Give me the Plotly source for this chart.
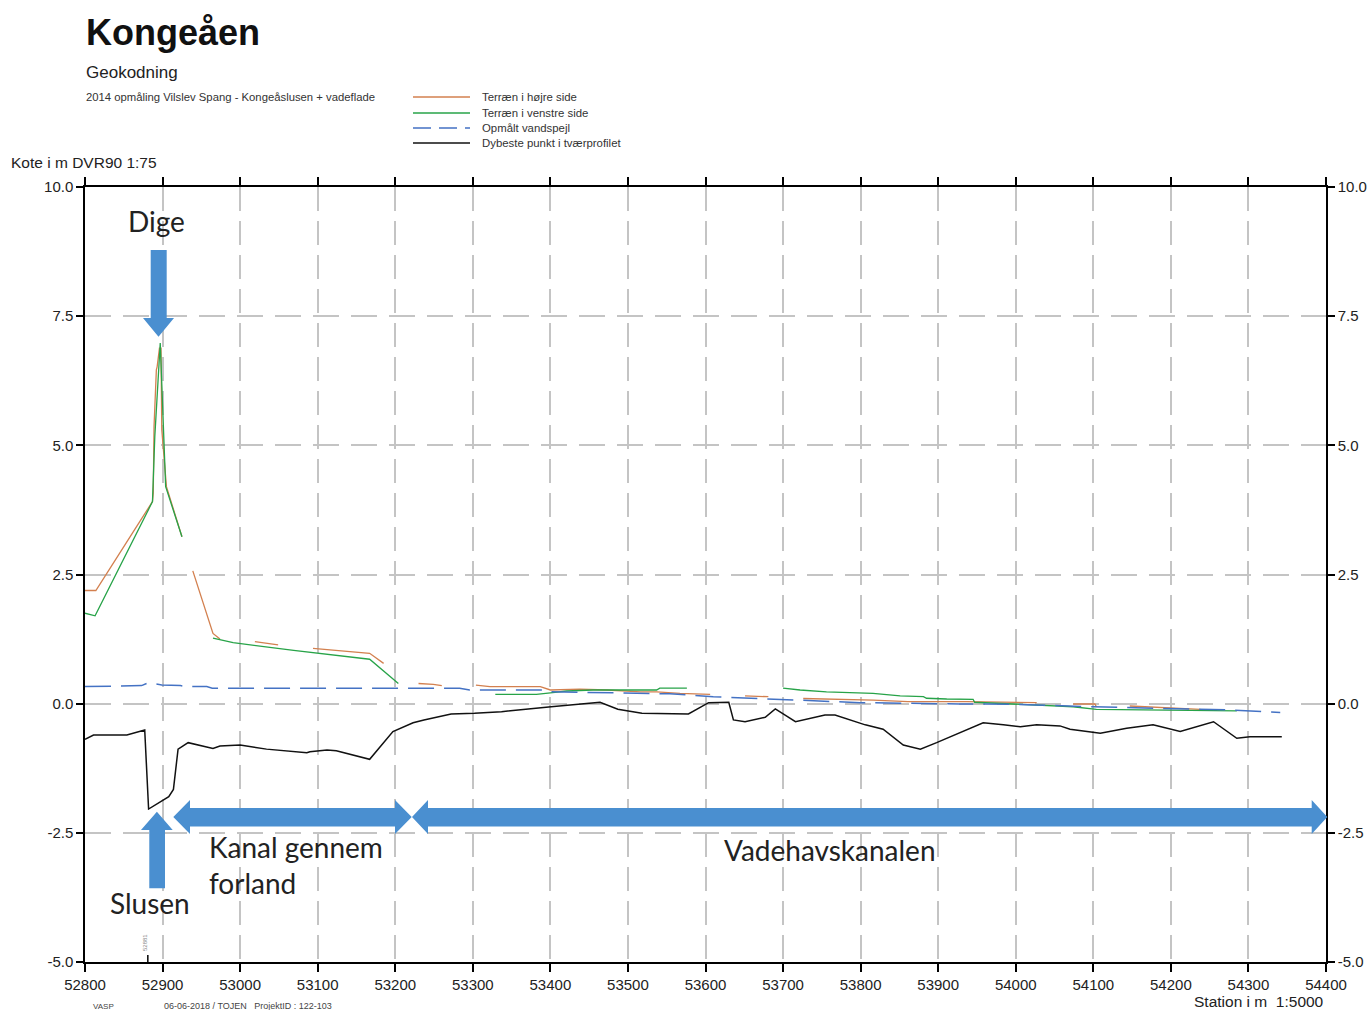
import plotly.graph_objects as go

# ---------------- data ----------------
orange_x = [52800, 52814, 52864, 52887, 52888, 52889, 52892, 52893, 52896, 52898, 52899, 52903, 52905, 52925, None,
            52939, 52965, 52974, None, 53019, 53049, None, 53094, 53167, 53185, None,
            53230, 53249, 53260, None, 53304, 53322, 53387, 53400, 53438, 53473, 53516, 53537, 53567, 53606, None,
            53651, 53681, None, 53726, 53816, 53861, 53891, 53937, 54027, None, 54074, 54102, 54104, None, 54147, 54238]
orange_y = [2.19, 2.19, 3.37, 3.91, 4.08, 5.36, 6.46, 6.52, 6.88, 6.88, 5.30, 4.46, 4.20, 3.23, None,
            2.57, 1.36, 1.25, None, 1.20, 1.14, None, 1.07, 0.975, 0.78, None,
            0.39, 0.375, 0.35, None, 0.36, 0.33, 0.33, 0.265, 0.28, 0.265, 0.23, 0.23, 0.20, 0.18, None,
            0.15, 0.135, None, 0.10, 0.07, 0.04, 0.04, 0.04, 0.02, None, -0.006, -0.006, -0.06, None, -0.045, -0.11]

green_x = [52800, 52813, 52887, 52890, 52897, 52899, 52904, 52925, None,
           52965, 52991, 53069, 53167, 53204, None,
           53329, 53382, 53400, 53421, 53455, 53537, 53541, 53576, None,
           53700, 53722, 53756, 53786, 53816, 53851, 53881, 53885, 53911, 53945, 53947, 54074, 54104, 54285]
green_y = [1.75, 1.70, 3.91, 5.17, 6.98, 6.13, 4.20, 3.23, None,
           1.27, 1.18, 1.03, 0.86, 0.39, None,
           0.18, 0.18, 0.21, 0.245, 0.265, 0.265, 0.30, 0.30, None,
           0.30, 0.265, 0.23, 0.21, 0.20, 0.15, 0.135, 0.105, 0.09, 0.085, 0.027, -0.06, -0.11, -0.14]

blue_x = [52800, 52873, 52880, 52886, 52899, 52923, 52931, 52957, 52964, 53283, 53296, 53395, 53400, 53494,
          53554, 53610, 53709, 53799, 53928, 53997, 54100, 54272, 54341]
blue_y = [0.33, 0.35, 0.395, 0.395, 0.36, 0.35, 0.33, 0.33, 0.30, 0.30, 0.265, 0.265, 0.23, 0.21,
          0.19, 0.135, 0.07, 0.02, -0.006, -0.012, -0.06, -0.12, -0.17]

black_x = [52800, 52811, 52854, 52875, 52877, 52882, 52908, 52914, 52920, 52933, 52965, 52974, 53000, 53034,
           53086, 53090, 53112, 53124, 53167, 53197, 53223, 53237, 53272, 53302, 53337, 53401, 53444, 53464,
           53487, 53518, 53578, 53604, 53630, 53636, 53651, 53677, 53690, 53716, 53754, 53767, 53806, 53829,
           53855, 53877, 53898, 53958, 53984, 54006, 54027, 54057, 54070, 54109, 54143, 54177, 54212, 54255,
           54285, 54302, 54343]
black_y = [-0.69, -0.606, -0.606, -0.51, -0.51, -2.04, -1.80, -1.66, -0.88, -0.755, -0.865, -0.82, -0.80, -0.88,
           -0.95, -0.93, -0.896, -0.91, -1.077, -0.54, -0.37, -0.315, -0.20, -0.186, -0.155, -0.058, -0.006, 0.027,
           -0.108, -0.186, -0.20, 0.02, 0.027, -0.315, -0.35, -0.263, -0.10, -0.35, -0.22, -0.22, -0.41, -0.495,
           -0.80, -0.88, -0.755, -0.37, -0.41, -0.445, -0.41, -0.43, -0.495, -0.57, -0.476, -0.41, -0.54, -0.35,
           -0.67, -0.64, -0.64]

x_ticks = list(range(52800, 54401, 100))
y_ticks = [-5.0, -2.5, 0.0, 2.5, 5.0, 7.5, 10.0]

series_names = ["Terræn i højre side", "Terræn i venstre side", "Opmålt vandspejl", "Dybeste punkt i tværprofilet"]
series_colors = ["#d3804f", "#27a348", "#4472c4", "#111111"]

# ---------------- figure ----------------
W, H = 1368, 1010
L, R, T, B = 85, 42, 187, 48
PW, PH = W - L - R, H - T - B


def px(x):
    return (x - L) / PW


def py(y):
    return (H - B - y) / PH


fig = go.Figure()
fig.add_trace(go.Scatter(x=orange_x, y=orange_y, mode="lines", line=dict(color=series_colors[0], width=1.3),
                         connectgaps=False, showlegend=False))
fig.add_trace(go.Scatter(x=green_x, y=green_y, mode="lines", line=dict(color=series_colors[1], width=1.3),
                         connectgaps=False, showlegend=False))
fig.add_trace(go.Scatter(x=blue_x, y=blue_y, mode="lines",
                         line=dict(color=series_colors[2], width=1.5, dash="26px,10px"), showlegend=False))
fig.add_trace(go.Scatter(x=black_x, y=black_y, mode="lines", line=dict(color=series_colors[3], width=1.5),
                         showlegend=False))
# invisible trace to bind right axis
fig.add_trace(go.Scatter(x=[52800], y=[0], yaxis="y2", mode="markers", marker=dict(opacity=0), showlegend=False,
                         hoverinfo="skip"))

axis_font = dict(family="Liberation Sans, Arial", size=15, color="#222")
grid_col = "#c4c4c4"

fig.update_layout(
    width=W, height=H,
    margin=dict(l=L, r=R, t=T, b=B, pad=0, autoexpand=False),
    paper_bgcolor="white", plot_bgcolor="white",
    xaxis=dict(range=[52800, 54400], tickvals=x_ticks, ticktext=[str(v) for v in x_ticks],
               showgrid=True, gridcolor=grid_col, gridwidth=1.5, griddash="24px,10px",
               showline=True, linecolor="black", linewidth=1.5, mirror="ticks",
               ticks="outside", ticklen=8, tickcolor="black", tickwidth=1.5,
               tickfont=axis_font, zeroline=False, automargin=False),
    yaxis=dict(range=[-5, 10], tickvals=y_ticks, ticktext=[f"{v:.1f}" for v in y_ticks],
               showgrid=True, gridcolor=grid_col, gridwidth=1.5, griddash="26px,12px",
               showline=True, linecolor="black", linewidth=1.5,
               ticks="outside", ticklen=7, tickcolor="black", tickwidth=1.5,
               tickfont=axis_font, zeroline=False, automargin=False),
    yaxis2=dict(range=[-5, 10], overlaying="y", side="right", tickvals=y_ticks,
                ticktext=[f"{v:.1f}" for v in y_ticks], showgrid=False,
                showline=True, linecolor="black", linewidth=1.5,
                ticks="outside", ticklen=7, tickcolor="black", tickwidth=1.5,
                tickfont=axis_font, zeroline=False, automargin=False),
    showlegend=False,
)

shapes = []
annotations = []

# title block
annotations.append(dict(text="<b>Kongeåen</b>", x=px(84), y=py(33), xref="paper", yref="paper",
                        xanchor="left", yanchor="middle", showarrow=False,
                        font=dict(family="Liberation Sans, Arial", size=36, color="#111")))
annotations.append(dict(text="Geokodning", x=px(84), y=py(73), xref="paper", yref="paper",
                        xanchor="left", yanchor="middle", showarrow=False,
                        font=dict(family="Liberation Sans, Arial", size=17, color="#222")))
annotations.append(dict(text="2014 opmåling Vilslev Spang - Kongeåslusen + vadeflade", x=px(84), y=py(97),
                        xref="paper", yref="paper", xanchor="left", yanchor="middle", showarrow=False,
                        font=dict(family="Liberation Sans, Arial", size=11.3, color="#333")))

# manual legend
leg_y = [97, 113, 128, 143]
for name, col, yy, i in zip(series_names, series_colors, leg_y, range(4)):
    shapes.append(dict(type="line", xref="paper", yref="paper", x0=px(413), x1=px(470), y0=py(yy), y1=py(yy),
                       line=dict(color=col, width=1.5, dash="18px,8px" if i == 2 else "solid")))
    annotations.append(dict(text=name, x=px(480), y=py(yy), xref="paper", yref="paper", xanchor="left",
                            yanchor="middle", showarrow=False,
                            font=dict(family="Liberation Sans, Arial", size=11.4, color="#333")))

# axis titles
annotations.append(dict(text="Kote i m DVR90 1:75", x=px(9), y=py(162), xref="paper", yref="paper",
                        xanchor="left", yanchor="middle", showarrow=False,
                        font=dict(family="Liberation Sans, Arial", size=15.5, color="#222")))
annotations.append(dict(text="Station i m  1:5000", x=px(1326), y=py(1001), xref="paper", yref="paper",
                        xanchor="right", yanchor="middle", showarrow=False,
                        font=dict(family="Liberation Sans, Arial", size=15.5, color="#222")))
annotations.append(dict(text="VASP", x=px(91), y=py(1006), xref="paper", yref="paper", xanchor="left",
                        yanchor="middle", showarrow=False,
                        font=dict(family="Liberation Sans, Arial", size=8, color="#444")))
annotations.append(dict(text="06-06-2018 / TOJEN   ProjektID : 122-103", x=px(162), y=py(1006), xref="paper",
                        yref="paper", xanchor="left", yanchor="middle", showarrow=False,
                        font=dict(family="Liberation Sans, Arial", size=9, color="#444")))
# small station marker near bottom
shapes.append(dict(type="line", xref="x", yref="paper", x0=52881, x1=52881, y0=0, y1=py(955),
                   line=dict(color="black", width=1.5)))
annotations.append(dict(text="52881", x=px(145), y=py(943), xref="paper", yref="paper", textangle=-90,
                        xanchor="center", yanchor="middle", showarrow=False,
                        font=dict(family="Liberation Sans, Arial", size=6, color="#888")))


# arrows
def poly(points):
    s = "M " + " L ".join(f"{px(a):.5f},{py(b):.5f}" for a, b in points) + " Z"
    return s


arrow_col = "#4a8fd0"
arrows = [
    [(150.7, 250), (166.7, 250), (166.7, 318), (174, 318), (158.5, 336.7), (143, 318), (150.7, 318)],
    [(156.9, 811.7), (172.7, 830), (165, 830), (165, 888.3), (149.3, 888.3), (149.3, 830), (141, 830)],
    [(173.3, 817), (190, 800), (190, 808), (395, 808), (395, 800), (411.7, 817), (395, 834), (395, 826.5),
     (190, 826.5), (190, 834)],
    [(412, 817), (428, 800), (428, 808), (1311.7, 808), (1311.7, 800), (1327.3, 817), (1311.7, 834),
     (1311.7, 826.5), (428, 826.5), (428, 834)],
]
for a in arrows:
    shapes.append(dict(type="path", xref="paper", yref="paper", path=poly(a), fillcolor=arrow_col,
                       line=dict(width=0), layer="above"))

ann_font = dict(family="Lato, Open Sans", size=28, color="#222")
for txt, x, y, anchor in [("Dige", 156, 221, "center"), ("Slusen", 150, 903, "center"),
                          ("Kanal gennem", 207, 847, "left"), ("forland", 207, 883, "left"),
                          ("Vadehavskanalen", 830, 850, "center")]:
    annotations.append(dict(text=txt, x=px(x), y=py(y), xref="paper", yref="paper", xanchor=anchor,
                            yanchor="middle", showarrow=False, font=ann_font))

fig.update_layout(shapes=shapes, annotations=annotations)

fig.write_html("out.html", config={"displayModeBar": False},
               post_script="document.body.style.margin='0';")
